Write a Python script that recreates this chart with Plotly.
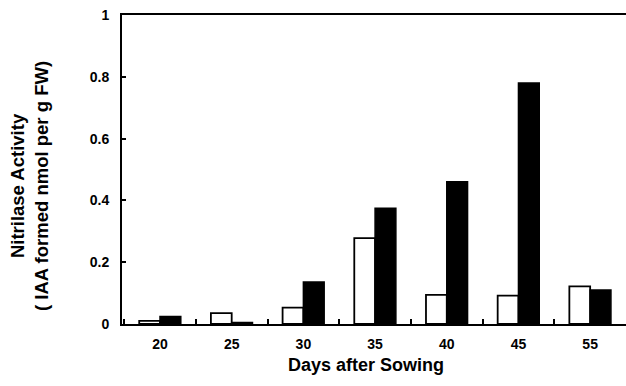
import plotly.graph_objects as go

days = ["20", "25", "30", "35", "40", "45", "55"]
white_vals = [0.01, 0.035, 0.053, 0.278, 0.094, 0.092, 0.122]
black_vals = [0.024, 0.005, 0.136, 0.375, 0.46, 0.78, 0.11]
y_ticks = [0, 0.2, 0.4, 0.6, 0.8, 1]
y_ticklabels = ["0", "0.2", "0.4", "0.6", "0.8", "1"]

font_family = "Liberation Sans, Arial, sans-serif"

fig = go.Figure()
fig.add_trace(go.Bar(x=days, y=white_vals, marker=dict(color="white", line=dict(color="black", width=1.8)),
                     showlegend=False))
fig.add_trace(go.Bar(x=days, y=black_vals, marker=dict(color="black", line=dict(color="black", width=1.5)),
                     showlegend=False))

fig.update_layout(
    width=626, height=386,
    margin=dict(l=122, r=0, t=15, b=62, autoexpand=False),
    paper_bgcolor="white", plot_bgcolor="white",
    barmode="group", bargap=0.42, bargroupgap=0,
    font=dict(family=font_family, color="black"),
    xaxis=dict(
        type="category", range=[-0.53, 6.5],
        showline=True, linecolor="black", linewidth=2, mirror=True,
        ticks="inside", tickson="boundaries", ticklen=5, tickwidth=2, tickcolor="black",
        tickfont=dict(size=14, family=font_family, weight="bold"),
        ticklabelstandoff=6,
        showgrid=False, zeroline=False,
    ),
    yaxis=dict(
        range=[0, 1], tickvals=y_ticks, ticktext=y_ticklabels,
        showline=True, linecolor="black", linewidth=2,
        ticks="inside", ticklen=4, tickwidth=2, tickcolor="black",
        tickfont=dict(size=14, family=font_family, weight="bold"),
        ticklabelstandoff=8,
        showgrid=False, zeroline=False,
    ),
    annotations=[
        dict(text="Nitrilase Activity<br>( IAA formed nmol per g FW)", textangle=-90,
             xref="paper", yref="paper", x=-0.1835, y=0.445, xanchor="center", yanchor="middle",
             showarrow=False, font=dict(size=18.5, family=font_family, weight="bold")),
        dict(text="Days after Sowing", xref="paper", yref="paper", x=0.484, y=-0.133,
             xanchor="center", yanchor="middle", showarrow=False,
             font=dict(size=18, family=font_family, weight="bold")),
    ],
)

fig.write_html("out.html", config={"displayModeBar": False},
               post_script="document.body.style.margin='0';")
